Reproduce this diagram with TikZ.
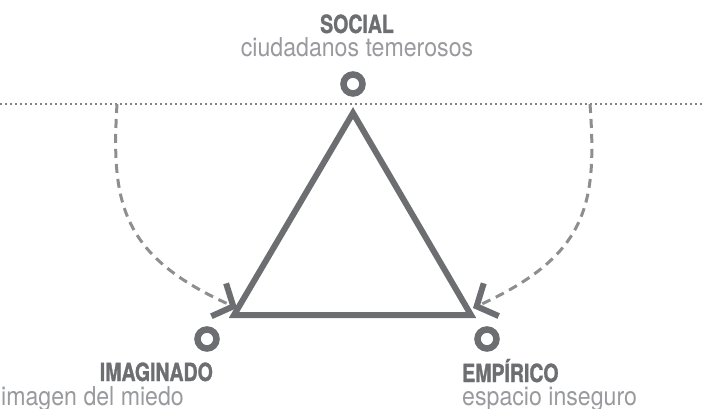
\documentclass[tikz,border=0pt]{standalone}
\usepackage{fontspec}
\newfontfamily\headfont[FakeStretch=0.78,BoldFeatures={FakeBold=1.2}]{TeX Gyre Heros}
\newfontfamily\subfont[FakeStretch=0.89]{TeX Gyre Heros}
\usetikzlibrary{arrows.meta}
\definecolor{textdark}{RGB}{109,110,113}
\definecolor{textlight}{RGB}{152,154,157}
\definecolor{dashgrey}{RGB}{140,142,145}
\definecolor{dotgrey}{RGB}{128,130,133}

\begin{document}
\begin{tikzpicture}[x=1pt,y=-1pt,
  title/.style={inner sep=0pt,text=textdark,font=\headfont\bfseries\fontsize{25}{25}\selectfont},
  subtitle/.style={inner sep=0pt,text=textlight,font=\subfont\fontsize{26}{26}\selectfont},
  ring/.style={circle,draw=textdark,line width=6.5pt,minimum size=19pt,inner sep=0pt},
  loop/.style={draw=dashgrey,line width=3pt,dash pattern=on 9pt off 6pt,
    -{Straight Barb[length=16pt,width=36pt,line width=6pt 0 1,color=textdark]}}]
  \useasboundingbox (0,0) rectangle (704,409);
  % dotted divider
  \coordinate (dl) at (0,104); \coordinate (dr) at (704,104);
  \draw[dotgrey,line width=2pt,dash pattern=on 2pt off 3pt] (dl) -- (dr);
  % triangle
  \coordinate (apex) at (353,113); \coordinate (vleft) at (234,315); \coordinate (vright) at (471,315);
  \draw[textdark,line width=6pt,line join=miter] (apex) -- (vleft) -- (vright) -- cycle;
  \node[ring] (csocial) at (353,84) {};
  \node[ring] (cimag) at (207,339) {};
  \node[ring] (cemp) at (487,339) {};
  % dashed loops
  \coordinate (sl) at (117,104); \coordinate (tl) at (237,308);
  \coordinate (sr) at (590,104); \coordinate (tr) at (473,308);
  \draw[loop] (sl) .. controls (111,203) and (121,256) .. (tl);
  \draw[loop] (sr) .. controls (597,203) and (589,255) .. (tr);
  % labels
  \node[title,anchor=base] (social) at (357,33) {SOCIAL};
  \node[subtitle,anchor=base] (socialtxt) at (357,57) {ciudadanos temerosos};
  \node[title,anchor=base east] (imag) at (213,381) {IMAGINADO};
  \node[subtitle,anchor=base west] (imagtxt) at (1,405) {imagen del miedo};
  \node[title,anchor=base west] (emp) at (462,382) {EMPÍRICO};
  \node[subtitle,anchor=base west] (emptxt) at (462,405) {espacio inseguro};
\end{tikzpicture}
\end{document}
